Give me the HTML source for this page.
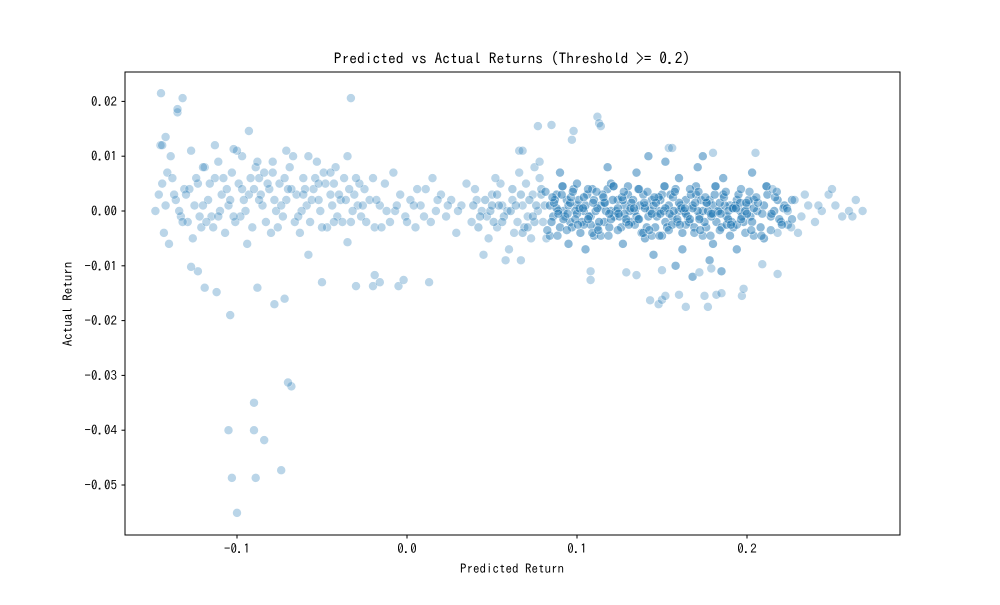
<!DOCTYPE html>
<html><head><meta charset="utf-8"><style>
html,body{margin:0;padding:0;background:#fff;}
svg text{font-family:"IPAGothic","Liberation Sans","Noto Sans CJK JP",sans-serif;fill:#000;}
</style></head><body>
<svg id="chart" width="1000" height="600" viewBox="0 0 1000 600" xmlns="http://www.w3.org/2000/svg">
<rect width="1000" height="600" fill="#fff"/>
<text x="512" y="64" font-size="15.5" text-anchor="middle">Predicted vs Actual Returns (Threshold &gt;= 0.2)</text>
<g id="points"></g>
<rect x="125" y="72" width="775" height="463" fill="none" stroke="#000" stroke-width="1"/>
<g id="xticks"></g>
<g id="yticks"></g>
<text x="512" y="573" font-size="13" text-anchor="middle">Predicted Return</text>
<text x="72" y="304" font-size="13" text-anchor="middle" transform="rotate(-90 72 304)">Actual Return</text>
</svg>
<script>
const xTickValues = [-0.1, 0.0, 0.1, 0.2];
const xTickLabels = ["−0.1", "0.0", "0.1", "0.2"];
const yTickValues = [0.02, 0.01, 0.0, -0.01, -0.02, -0.03, -0.04, -0.05];
const yTickLabels = ["0.02", "0.01", "0.00", "−0.01", "−0.02", "−0.03", "−0.04", "−0.05"];

const leftPred = [-0.148,-0.143,-0.141,-0.138,-0.136,-0.133,-0.131,-0.129,-0.127,-0.125,-0.123,-0.121,-0.119,-0.117,-0.115,-0.113,-0.111,-0.109,-0.107,-0.105,-0.103,-0.101,-0.099,-0.097,-0.095,-0.093,-0.091,-0.089,-0.087,-0.085,-0.083,-0.081,-0.079,-0.077,-0.075,-0.073,-0.071,-0.069,-0.067,-0.065,-0.063,-0.061,-0.059,-0.057,-0.055,-0.053,-0.051,-0.049,-0.047,-0.045,-0.043,-0.041,-0.039,-0.037,-0.035,-0.033,-0.031,-0.029,-0.027,-0.025,-0.022,-0.019,-0.016,-0.013,-0.010,-0.007,-0.004,-0.001,0.002,0.005,0.008,0.011,0.014,0.017,0.020,0.023,0.026,0.029,0.032,0.035,-0.146,-0.140,-0.134,-0.128,-0.122,-0.116,-0.110,-0.104,-0.098,-0.092,-0.086,-0.080,-0.074,-0.068,-0.062,-0.056,-0.050,-0.044,-0.038,-0.032,-0.126,-0.118,-0.106,-0.094,-0.084,-0.076,-0.066,-0.054,-0.042,-0.028,-0.139,-0.113,-0.100,-0.088,-0.071,-0.058,-0.045,-0.020,-0.008,0.015];
const leftAct = [0.000,-0.004,0.007,0.006,0.002,-0.001,0.004,-0.002,0.011,0.001,0.005,-0.003,0.008,0.002,-0.001,0.006,0.009,0.003,-0.004,0.001,0.007,-0.002,0.005,0.010,0.000,0.003,-0.003,0.008,0.006,0.001,-0.002,0.004,0.009,0.000,0.005,-0.001,0.002,0.008,0.010,0.003,-0.004,0.006,0.001,-0.002,0.004,0.009,0.000,0.007,-0.003,0.003,0.005,-0.001,0.002,0.006,0.010,-0.002,0.003,0.001,-0.001,0.004,0.002,-0.003,0.001,0.005,-0.002,0.000,0.003,-0.001,0.002,-0.003,0.001,0.004,-0.002,0.000,0.003,-0.001,0.002,-0.004,0.001,0.005,0.003,-0.006,0.000,0.004,-0.001,0.005,0.000,0.002,-0.001,0.006,0.003,-0.004,0.001,0.004,0.000,0.002,-0.003,0.001,-0.002,0.000,-0.005,-0.002,0.004,-0.006,0.007,-0.003,-0.002,0.006,0.008,0.005,0.010,0.012,0.011,0.009,0.011,0.010,0.007,0.006,0.007,0.006];

const left2Pred = [-0.144,-0.137,-0.132,-0.124,-0.120,-0.114,-0.108,-0.102,-0.096,-0.090,-0.082,-0.078,-0.072,-0.064,-0.060,-0.052,-0.048,-0.040,-0.034,-0.026,-0.024,-0.018,-0.012,-0.006,0.000,0.004,0.010,0.018,0.024,0.030,-0.142,-0.130,-0.120,-0.111,-0.097,-0.087,-0.079,-0.070,-0.061,-0.052,-0.043,-0.036,-0.030,-0.015,0.006];
const left2Act = [0.005,0.003,-0.002,0.006,0.001,-0.003,0.006,-0.001,0.002,0.004,0.005,0.002,0.006,-0.001,0.004,0.002,0.005,0.003,0.004,0.001,-0.002,0.002,0.000,0.001,-0.002,0.001,-0.001,0.002,0.001,0.000,0.001,0.003,0.008,-0.001,0.004,0.002,0.007,0.004,0.003,0.005,-0.002,0.002,0.006,-0.003,0.004];

const midPred = [0.038,0.041,0.044,0.047,0.050,0.053,0.056,0.059,0.062,0.065,0.068,0.071,0.074,0.077,0.080,0.040,0.048,0.055,0.063,0.070,0.045,0.052,0.060,0.066,0.073,0.078,0.058,0.067,0.075,0.082];
const midAct = [-0.002,0.002,0.000,-0.001,0.003,-0.003,0.001,0.000,0.002,-0.002,0.001,-0.001,0.003,0.000,-0.002,0.004,-0.005,0.005,-0.004,0.005,-0.008,0.006,-0.007,0.007,-0.005,0.006,-0.009,-0.009,0.008,-0.005];

const mid2Pred = [0.039,0.043,0.046,0.049,0.051,0.054,0.057,0.061,0.064,0.067,0.069,0.072,0.075,0.076,0.079,0.081,0.042,0.050,0.056,0.062,0.068,0.074,0.079,0.053,0.071];
const mid2Act = [0.001,-0.001,0.002,0.000,-0.002,0.001,-0.001,0.000,0.001,0.003,-0.003,0.002,-0.002,0.001,0.003,0.001,-0.003,0.001,-0.002,0.004,-0.004,-0.001,0.004,0.003,-0.003];

const densePred = [0.084,0.086,0.088,0.090,0.092,0.094,0.096,0.098,0.100,0.102,0.104,0.106,0.108,0.110,0.112,0.114,0.116,0.118,0.120,0.122,0.124,0.126,0.128,0.130,0.132,0.134,0.136,0.138,0.140,0.142,0.144,0.146,0.148,0.150,0.152,0.154,0.156,0.158,0.160,0.162,0.164,0.166,0.168,0.170,0.172,0.174,0.176,0.178,0.180,0.182,0.184,0.186,0.188,0.190,0.192,0.194,0.196,0.198,0.200,0.202,0.204,0.206,0.208,0.210,0.212,0.214,0.216,0.218,0.220,0.222,
0.085,0.087,0.089,0.091,0.093,0.095,0.097,0.099,0.101,0.103,0.105,0.107,0.109,0.111,0.113,0.115,0.117,0.119,0.121,0.123,0.125,0.127,0.129,0.131,0.133,0.135,0.137,0.139,0.141,0.143,0.145,0.147,0.149,0.151,0.153,0.155,0.157,0.159,0.161,0.163,0.165,0.167,0.169,0.171,0.173,0.175,0.177,0.179,0.181,0.183,0.185,0.187,0.189,0.191,0.193,0.195,0.197,0.199,0.201,0.203,
0.088,0.092,0.096,0.100,0.104,0.108,0.112,0.116,0.120,0.124,0.128,0.132,0.136,0.140,0.144,0.148,0.152,0.156,0.160,0.164,0.168,0.172,0.176,0.180,0.184,0.188,0.192,0.196,0.200,0.204,0.110,0.130,0.150,0.170,0.190,0.120,0.140,0.160,0.180,0.100,
0.090,0.105,0.118,0.127,0.135,0.145,0.152,0.162,0.171,0.178,0.186,0.194,0.203,0.210,0.095,0.142,0.158,0.174,0.168,0.185];
const denseAct = [0.001,-0.001,0.003,-0.003,0.000,0.002,-0.002,0.004,0.001,-0.004,0.000,0.003,-0.001,0.002,-0.003,0.001,-0.002,0.004,0.000,-0.001,0.002,-0.003,0.001,0.003,-0.002,0.000,0.004,-0.004,0.001,-0.001,0.002,-0.003,0.000,0.003,-0.002,0.001,-0.001,0.004,0.000,-0.004,0.002,-0.002,0.001,0.003,-0.001,0.000,-0.003,0.002,0.001,-0.002,0.000,0.003,-0.001,0.001,-0.003,0.002,0.000,-0.002,0.001,-0.001,0.002,0.000,-0.003,0.001,0.003,-0.001,0.000,0.002,-0.002,0.001,
-0.002,0.002,0.000,0.003,-0.001,0.001,-0.003,0.000,0.002,-0.002,0.001,-0.001,0.004,0.000,-0.002,0.003,0.000,-0.003,0.002,0.000,-0.001,0.002,-0.002,0.000,0.002,-0.001,0.001,0.003,-0.003,0.000,0.001,-0.001,0.002,0.000,-0.003,0.003,0.000,-0.002,0.001,0.000,-0.001,0.003,-0.003,0.000,0.002,-0.002,0.000,-0.001,0.003,0.000,-0.003,0.001,0.000,-0.002,0.001,0.003,-0.001,0.000,0.002,-0.002,
0.0005,-0.0015,0.0015,-0.0005,0.0025,-0.0025,0.0005,0.0015,-0.0015,0.0005,-0.0005,0.0015,-0.0015,0.0005,-0.0005,0.0025,0.0005,-0.0025,0.0015,-0.0005,0.0005,-0.0015,0.0015,-0.0005,0.0015,-0.0025,0.0005,0.0015,-0.0005,0.0005,-0.0045,0.0045,-0.0045,0.0045,-0.0045,0.005,-0.005,0.006,-0.006,0.005,
0.007,-0.007,0.008,-0.006,0.007,-0.008,0.009,-0.007,0.008,-0.009,0.006,-0.007,0.007,-0.005,-0.006,0.010,-0.010,0.010,-0.012,-0.011];

const dense2Pred = [0.0815,0.084,0.0865,0.089,0.0915,0.094,0.0965,0.099,0.1015,0.104,0.1065,0.109,0.1115,0.114,0.1165,0.119,0.1215,0.124,0.1265,0.129,0.1315,0.134,0.1365,0.139,0.1415,0.144,0.1465,0.149,0.1515,0.154,0.1565,0.159,0.1615,0.164,0.1665,0.169,0.1715,0.174,0.1765,0.179,0.1815,0.184,0.1865,0.189,0.1915,0.194,0.1965,0.199,0.2015,0.204,0.2065,0.209,0.2115,0.214,0.2165,0.219,0.2215,0.224,0.2265];
const dense2Act = [0.0035,-0.0045,0.0015,-0.0005,0.0045,-0.0035,0.0025,-0.0015,0.0005,-0.0025,0.004,-0.004,0.0035,-0.0045,0.0015,-0.0005,0.0045,-0.0035,0.0025,-0.0015,0.0005,-0.0025,0.004,-0.004,0.0035,-0.0045,0.0015,-0.0005,0.0045,-0.0035,0.0025,-0.0015,0.0005,-0.0025,0.004,-0.004,0.0035,-0.0045,0.0015,-0.0005,0.0045,-0.0035,0.0025,-0.0015,0.0005,-0.0025,0.004,-0.004,0.0035,-0.0045,0.0015,-0.0005,0.0045,-0.0035,0.0025,-0.0015,0.0005,-0.0025,0.002];

const dense3Pred = [0.0825,0.0855,0.0885,0.0915,0.0945,0.0975,0.1005,0.1035,0.1065,0.1095,0.1125,0.1155,0.1185,0.1215,0.1245,0.1275,0.1305,0.1335,0.1365,0.1395,0.1425,0.1455,0.1485,0.1515,0.1545,0.1575,0.1605,0.1635,0.1665,0.1695,0.1725,0.1755,0.1785,0.1815,0.1845,0.1875,0.1905,0.1935,0.1965,0.1995,0.2025,0.2055,0.2085,0.2115,0.2145,0.2175,0.2205,0.2235,0.2265];
const dense3Act = [-0.0035,0.0025,-0.0045,0.0045,-0.0005,0.0035,-0.0025,0.0005,-0.0015,0.0015,-0.0035,0.0025,-0.0045,0.0045,-0.0005,0.0035,-0.0025,0.0005,-0.0015,0.0015,-0.0035,0.0025,-0.0045,0.0045,-0.0005,0.0035,-0.0025,0.0005,-0.0015,0.0015,-0.0035,0.0025,-0.0045,0.0045,-0.0005,0.0035,-0.0025,0.0005,-0.0015,0.0015,-0.0035,0.0025,-0.0045,0.0045,-0.0005,0.0035,-0.0025,0.0005,-0.0015];

const tailPred = [0.224,0.228,0.232,0.236,0.240,0.244,0.248,0.252,0.256,0.260,0.264,0.268,0.226,0.234,0.242,0.230,0.215,0.218,0.250,0.262];
const tailAct = [0.000,0.002,-0.001,0.001,-0.002,0.000,0.003,0.001,-0.001,0.000,0.002,0.000,-0.003,0.003,0.001,-0.004,0.004,-0.004,0.004,-0.001];

const outlierPred = [-0.1447,-0.132,-0.033,-0.135,-0.135,-0.145,-0.144,-0.142,-0.093,-0.102,0.112,0.077,0.113,0.114,0.098,0.085,0.097,0.154,0.156,0.078,0.066,0.068,0.205,0.180,
-0.104,-0.119,-0.112,-0.088,-0.078,-0.072,-0.068,-0.070,-0.090,-0.105,-0.090,-0.084,-0.074,-0.103,-0.089,-0.100,-0.123,-0.127,-0.050,-0.030,-0.020,-0.016,-0.005,-0.002,0.013,-0.019,-0.035,-0.058,
0.108,0.108,0.129,0.135,0.150,0.172,0.179,0.148,0.150,0.164,0.177,0.182,0.185,0.197,0.198,0.175,0.160,0.152,0.143,0.218,0.209];
const outlierAct = [0.0215,0.0206,0.0206,0.018,0.0186,0.012,0.012,0.0135,0.0146,0.0113,0.0172,0.0155,0.016,0.0155,0.0146,0.0157,0.013,0.0115,0.0115,0.009,0.011,0.011,0.0106,0.0106,
-0.019,-0.014,-0.0148,-0.014,-0.017,-0.016,-0.032,-0.0313,-0.035,-0.040,-0.040,-0.0418,-0.0473,-0.0487,-0.0487,-0.0551,-0.011,-0.0102,-0.013,-0.0137,-0.0137,-0.013,-0.0137,-0.0126,-0.013,-0.0117,-0.0057,-0.008,
-0.011,-0.0126,-0.0112,-0.0117,-0.0108,-0.0112,-0.0105,-0.017,-0.0162,-0.0175,-0.0175,-0.0153,-0.015,-0.0155,-0.0142,-0.0155,-0.0153,-0.0155,-0.0163,-0.0115,-0.0097];

const X0 = 407, XS = 1700;
const Y0 = 211, YS = 5480;
function xScale(v){ return X0 + v * XS; }
function yScale(v){ return Y0 - v * YS; }
const NS = "http://www.w3.org/2000/svg";

const ptsG = document.getElementById('points');
function drawSeries(px, py, op){
  for (let i = 0; i < px.length; i++){
    const c = document.createElementNS(NS, 'circle');
    c.setAttribute('cx', xScale(px[i]).toFixed(1));
    c.setAttribute('cy', yScale(py[i]).toFixed(1));
    c.setAttribute('r', 4.6);
    c.setAttribute('fill', '#1f77b4');
    c.setAttribute('stroke', '#fff');
    c.setAttribute('stroke-width', '0.75');
    c.setAttribute('opacity', op);
    
    
    ptsG.appendChild(c);
  }
}
drawSeries(leftPred, leftAct, 0.3);
drawSeries(left2Pred, left2Act, 0.3);
drawSeries(midPred, midAct, 0.3);
drawSeries(mid2Pred, mid2Act, 0.35);
drawSeries(densePred, denseAct, 0.5);
drawSeries(dense2Pred, dense2Act, 0.45);
drawSeries(dense3Pred, dense3Act, 0.45);
drawSeries(tailPred, tailAct, 0.3);
drawSeries(outlierPred, outlierAct, 0.3);

const xg = document.getElementById('xticks');
xTickValues.forEach((v, i) => {
  const x = xScale(v);
  const l = document.createElementNS(NS, 'line');
  l.setAttribute('x1', x); l.setAttribute('x2', x);
  l.setAttribute('y1', 535); l.setAttribute('y2', 538.5);
  l.setAttribute('stroke', '#000');
  
  
  xg.appendChild(l);
  const t = document.createElementNS(NS, 'text');
  t.setAttribute('x', x); t.setAttribute('y', 553);
  t.setAttribute('font-size', '13');
  t.setAttribute('text-anchor', 'middle');
  t.textContent = xTickLabels[i];
  
  
  xg.appendChild(t);
});
const yg = document.getElementById('yticks');
yTickValues.forEach((v, i) => {
  const y = yScale(v);
  const l = document.createElementNS(NS, 'line');
  l.setAttribute('x1', 121.5); l.setAttribute('x2', 125);
  l.setAttribute('y1', y); l.setAttribute('y2', y);
  l.setAttribute('stroke', '#000');
  
  
  yg.appendChild(l);
  const t = document.createElementNS(NS, 'text');
  t.setAttribute('x', 117); t.setAttribute('y', y + 4.5);
  t.setAttribute('font-size', '13');
  t.setAttribute('text-anchor', 'end');
  t.textContent = yTickLabels[i];
  
  
  yg.appendChild(t);
});
</script>
</body></html>
